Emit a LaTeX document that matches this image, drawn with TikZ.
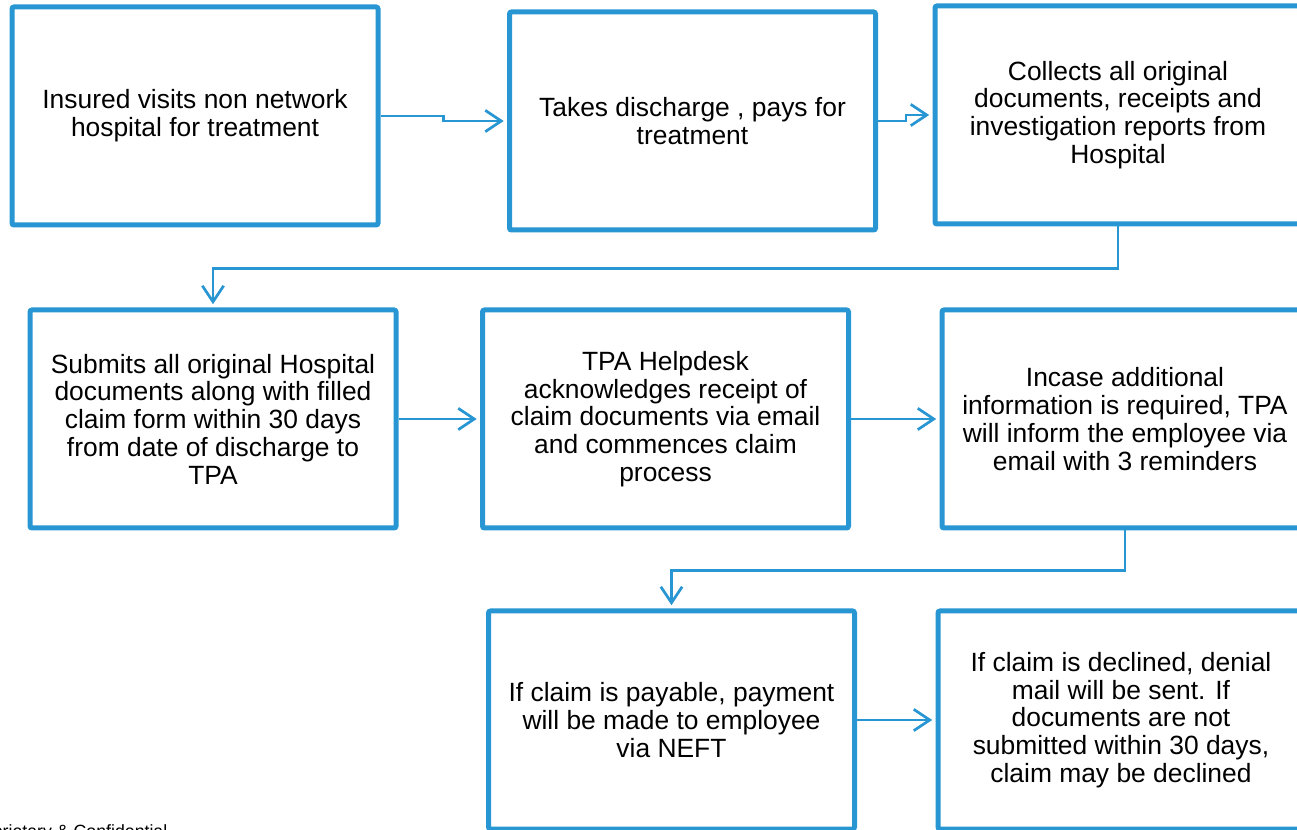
\documentclass[tikz,border=0pt]{standalone}
\usepackage{fontspec}
\setmainfont{Liberation Sans}
\usetikzlibrary{arrows.meta}
\definecolor{flowblue}{RGB}{40,150,210}
\tikzset{
  flowbox/.style={draw=flowblue, line width=3.75pt, rounded corners=1.5pt,
    fill=white, minimum width=274.5pt, minimum height=163.5pt, inner sep=0pt,
    align=center, font=\fontsize{19.8pt}{20.8pt}\selectfont, text=black},
  conn/.style={draw=flowblue, line width=2pt,
    -{Straight Barb[length=12pt,width=16pt,line width=2pt]}, shorten >=2.5pt},
}
\begin{document}
\begin{tikzpicture}[x=0.75pt,y=-0.75pt]
\useasboundingbox (0,0) rectangle (1297,830);
\node[flowbox] (b1) at (195,116) {Insured visits non network\\hospital for treatment};
\node[flowbox] (b2) at (692.5,121) {Takes discharge , pays for\\treatment};
\node[flowbox] (b3) at (1118,115) {Collects all original\\documents, receipts and\\investigation reports from\\Hospital};
\node[flowbox] (b4) at (213,419) {Submits all original Hospital\\documents along with filled\\claim form within 30 days\\from date of discharge to\\TPA};
\node[flowbox] (b5) at (665.5,419) {TPA Helpdesk\\acknowledges receipt of\\claim documents via email\\and commences claim\\process};
\node[flowbox] (b6) at (1125,419) {Incase additional\\information is required, TPA\\will inform the employee via\\email with 3 reminders};
\node[flowbox] (b7) at (671.5,720) {If claim is payable, payment\\will be made to employee\\via NEFT};
\node[flowbox] (b8) at (1121,720) {If claim is declined, denial\\mail will be sent. If\\documents are not\\submitted within 30 days,\\claim may be declined};
\draw[conn] (b1.east) -- ++(63,0) |- (b2.west);
\draw[conn] (b2.east) -- ++(28,0) |- (b3.west);
\draw[conn] (b3.south) -- ++(0,42) -| (b4.north);
\draw[conn] (b4.east) -- (b5.west);
\draw[conn] (b5.east) -- (b6.west);
\draw[conn] (b6.south) -- ++(0,40) -| (b7.north);
\draw[conn] (b7.east) -- (b8.west);
\node[anchor=base west, inner sep=0pt, font=\fontsize{13.3pt}{14pt}\selectfont] (foot) at (-35,837) {Proprietary \& Confidential};
\end{tikzpicture}
\end{document}
